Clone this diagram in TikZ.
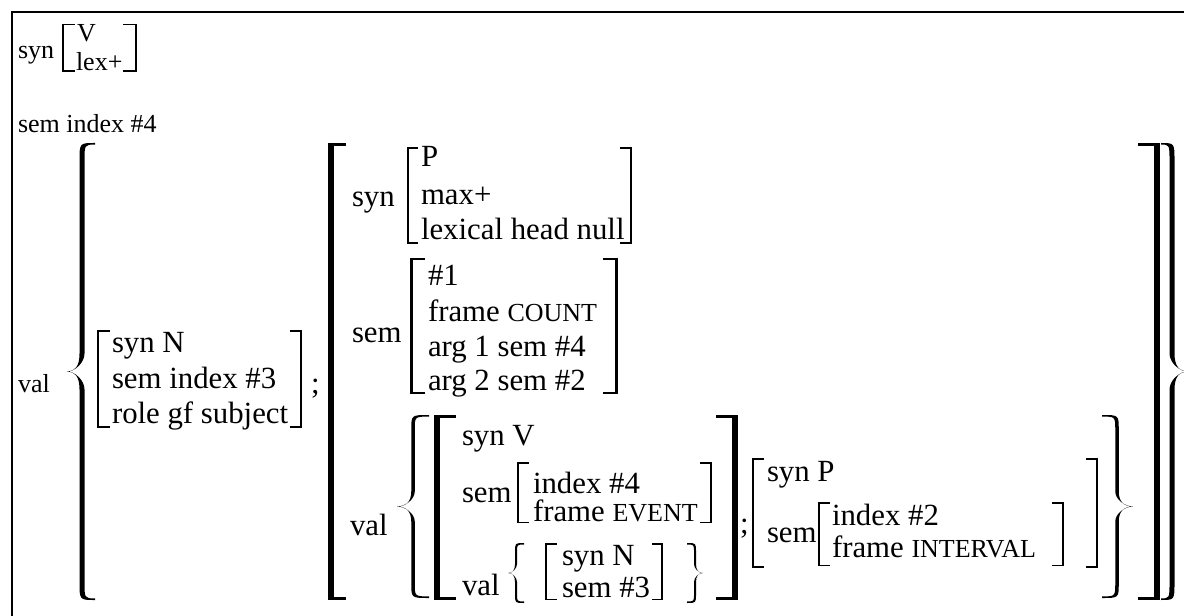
\documentclass[tikz,border=0pt]{standalone}
\usepackage{fontspec}
\setmainfont{Liberation Serif}

\newcommand{\bigsz}{\fontsize{23.1}{26}\selectfont}
\newcommand{\smsz}{\fontsize{19.5}{22}\selectfont}

\tikzstyle{txt} = [anchor=base west, inner sep=0pt, outer sep=0pt, font=\bigsz]
\tikzstyle{stxt} = [txt, font=\smsz]

% brackets: outer x, top, bottom, arm length, stem width, arm width
\newcommand{\lbrk}[6]{%
  \fill (#1,#2) rectangle ({#1+#5},#3);
  \fill (#1,#2) rectangle ({#1+#4},{#2+#6});
  \fill (#1,{#3-#6}) rectangle ({#1+#4},#3);}
\newcommand{\rbrk}[6]{%
  \fill ({#1-#5},#2) rectangle (#1,#3);
  \fill ({#1-#4},#2) rectangle (#1,{#2+#6});
  \fill ({#1-#4},{#3-#6}) rectangle (#1,#3);}
% curly brace: stem x, top, bottom, tip x, hook x, radius, stem width
\newcommand{\curly}[7]{%
  \pgfmathsetmacro\brM{(#2+#3)/2}
  \pgfmathsetmacro\brO{#1+0.5*#7*(#4-#1)/abs(#4-#1)}
  \pgfmathsetmacro\brI{#1-0.5*#7*(#4-#1)/abs(#4-#1)}
  \pgfmathsetmacro\brC{#1+0.45*(#4-#1)}
  \fill (#5,#2) .. controls (\brO,#2) .. (\brO,{#2+#6})
    -- (\brO,{\brM-#6}) .. controls (\brO,{\brM-0.3*#6}) and (\brC,\brM) .. (#4,\brM)
    .. controls (\brC,\brM) and (\brO,{\brM+0.3*#6}) .. (\brO,{\brM+#6})
    -- (\brO,{#3-#6}) .. controls (\brO,#3) .. (#5,#3)
    -- (#5,{#3-1.6}) .. controls (\brI,{#3-1.6}) .. (\brI,{#3-#6})
    -- (\brI,{\brM+#6}) .. controls (\brI,{\brM+0.5*#6}) and (\brC,\brM) .. (#4,\brM)
    .. controls (\brC,\brM) and (\brI,{\brM-0.5*#6}) .. (\brI,{\brM-#6})
    -- (\brI,{#2+#6}) .. controls (\brI,{#2+1.6}) .. (#5,{#2+1.6}) -- cycle;}

\begin{document}
\begin{tikzpicture}[x=0.75pt, y=-0.75pt]
\useasboundingbox (0,0) rectangle (1184,616);
\clip (0,0) rectangle (1184,616);
\draw[line width=1.5pt] (11.5,640) -- (11.5,12.5) -- (1200,12.5);

% head of the entry
\node[stxt] (topsyn) at (18,59) {syn};
\lbrk{62}{24}{72}{13}{1.8}{1.5}
\node[stxt] (topcat) at (77,42) {V};
\node[stxt] (toplex) at (76,71) {lex+};
\rbrk{137}{24}{72}{14}{1.8}{1.5}
\node[stxt] (topsem) at (18,133) {sem index \#4};
\node[stxt] (topval) at (18,392) {val};
\curly{82}{143}{600}{67}{95}{18}{5}

% subject
\lbrk{97}{330}{428}{13}{2}{1.6}
\node[txt] (subjsyn) at (112,353) {syn N};
\node[txt] (subjsem) at (112,388) {sem index \#3};
\node[txt] (subjrole) at (112,423) {role gf subject};
\rbrk{302}{330}{428}{12}{2}{1.6}
\node[txt] (semi1) at (311,393) {;};

% preposition
\lbrk{328}{143}{600}{18}{6}{3}
\node[txt] (psyn) at (352,207) {syn};
\lbrk{407}{147}{244}{11}{2}{1.6}
\node[txt] (pcat) at (421,167) {P};
\node[txt] (pmax) at (421,205) {max+};
\node[txt] (plex) at (421,240) {lexical head null};
\rbrk{632}{147}{244}{12}{2}{1.6}
\node[txt] (psem) at (352,343) {sem};
\lbrk{410}{258}{394}{15}{3}{1.8}
\node[txt] (pidx) at (428,286) {\#1};
\node[txt] (pframe) at (428,321) {frame {\smsz COUNT}};
\node[txt] (parg1) at (428,356) {arg 1 sem \#4};
\node[txt] (parg2) at (428,390) {arg 2 sem \#2};
\rbrk{618}{258}{394}{15}{3}{1.8}
\node[txt] (pval) at (350,535) {val};
\curly{413}{415}{598}{397}{429}{15}{3.5}

% verb
\lbrk{434}{415}{600}{22}{6}{3}
\node[txt] (vsyn) at (462,445) {syn V};
\node[txt] (vsem) at (462,502) {sem};
\lbrk{517}{462}{523}{12}{1.8}{1.5}
\node[txt] (vidx) at (533,493) {index \#4};
\node[txt] (vframe) at (533,521) {frame {\smsz EVENT}};
\rbrk{712}{462}{523}{12}{1.8}{1.5}
\node[txt] (vval) at (462,595) {val};
\curly{516}{543}{603}{508}{524}{9}{2}
\lbrk{545}{543}{600}{12}{1.8}{1.5}
\node[txt] (nsyn) at (562,565) {syn N};
\node[txt] (nsem) at (562,597) {sem \#3};
\rbrk{663}{543}{600}{11}{1.8}{1.5}
\curly{695}{543}{603}{703}{687}{9}{2}
\rbrk{738}{415}{600}{22}{6}{3}
\node[txt] (semi2) at (740,533) {;};

% interval
\lbrk{752}{458}{568}{12}{2.2}{1.6}
\node[txt] (ppsyn) at (767,481) {syn P};
\node[txt] (ppsem) at (767,542) {sem};
\lbrk{818}{502}{566}{12}{1.8}{1.5}
\node[txt] (ppidx) at (832,525) {index \#2};
\node[txt] (ppframe) at (832,557) {frame {\smsz INTERVAL}};
\rbrk{1064}{502}{566}{12}{1.8}{1.5}
\rbrk{1098}{458}{568}{12}{2.2}{1.6}
\curly{1117}{415}{598}{1133}{1102}{15}{3.5}

\rbrk{1160}{143}{600}{22}{6}{3}
\curly{1172}{143}{600}{1188}{1161}{18}{5}
\end{tikzpicture}
\end{document}
